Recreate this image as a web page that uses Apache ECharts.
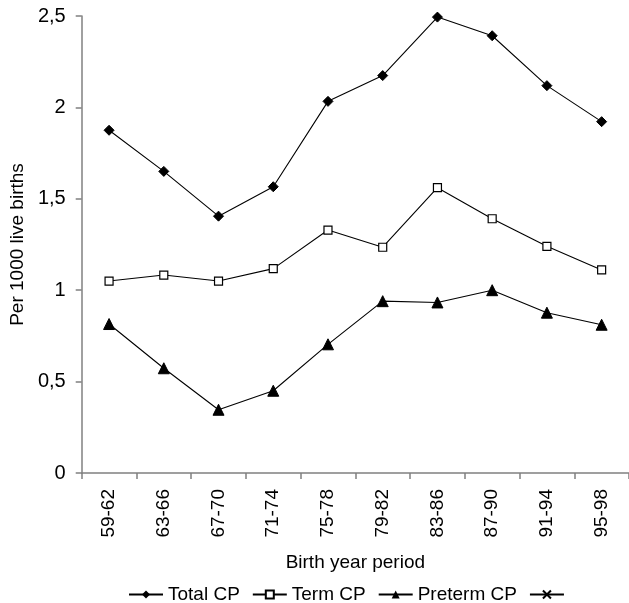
<!DOCTYPE html>
<html>
<head>
<meta charset="utf-8">
<script src="https://cdn.jsdelivr.net/npm/echarts@6/dist/echarts.min.js"></script>
<style>
  body { margin: 0; background: #fff; }
  #chart { width: 629px; height: 603px; }
</style>
</head>
<body>
<div id="chart"></div>
<script>
const periods = ['59-62', '63-66', '67-70', '71-74', '75-78', '79-82', '83-86', '87-90', '91-94', '95-98'];
const totalCP = [1.875, 1.65, 1.405, 1.566, 2.033, 2.174, 2.494, 2.392, 2.119, 1.922];
const termCP = [1.05, 1.083, 1.05, 1.118, 1.329, 1.235, 1.561, 1.391, 1.24, 1.111];
const pretermCP = [0.815, 0.573, 0.346, 0.45, 0.704, 0.94, 0.933, 1.0, 0.877, 0.811];

const font = 'Liberation Sans, Arial, sans-serif';
const crossPath = 'path://M0,0L10,10M10,0L0,10';

const chart = echarts.init(document.getElementById('chart'));

const lineStyle = { color: '#000', width: 1.1 };

chart.setOption({
  animation: false,
  backgroundColor: '#fff',
  textStyle: { fontFamily: font, color: '#000' },
  grid: { left: 78, right: -8, top: 16, bottom: 130 },
  legend: {
    top: 580,
    left: 123,
    padding: 5,
    itemWidth: 34,
    itemHeight: 10,
    itemGap: 12,
    textStyle: { fontFamily: font, fontSize: 19, color: '#000' },
    data: ['Total CP', 'Term CP', 'Preterm CP', ' ']
  },
  xAxis: {
    type: 'category',
    data: periods,
    boundaryGap: true,
    name: 'Birth year period',
    nameLocation: 'middle',
    nameGap: 80,
    nameTextStyle: { fontSize: 19, color: '#000', fontFamily: font },
    axisLine: { lineStyle: { color: '#808080', width: 1.5 } },
    axisTick: { show: true, length: 6, alignWithLabel: false, lineStyle: { color: '#808080', width: 1.5 } },
    axisLabel: { rotate: 90, fontSize: 19, color: '#000', margin: 16, fontFamily: font }
  },
  yAxis: {
    type: 'value',
    min: 0,
    max: 2.5,
    interval: 0.5,
    name: 'Per 1000 live births',
    nameLocation: 'middle',
    nameGap: 54,
    nameTextStyle: { fontSize: 19, color: '#000', fontFamily: font },
    axisLine: { show: true, lineStyle: { color: '#808080', width: 1.5 } },
    axisTick: { show: true, length: 6, lineStyle: { color: '#808080', width: 1.5 } },
    splitLine: { show: false },
    axisLabel: {
      fontSize: 20, color: '#000', margin: 16, fontFamily: font,
      formatter: v => String(v).replace('.', ',')
    }
  },
  series: [
    {
      name: 'Total CP', type: 'line', data: totalCP,
      symbol: 'diamond', symbolSize: 10,
      lineStyle: lineStyle,
      itemStyle: { color: '#000', borderColor: '#000' }
    },
    {
      name: 'Term CP', type: 'line', data: termCP,
      symbol: 'rect', symbolSize: 8,
      lineStyle: lineStyle,
      itemStyle: { color: '#fff', borderColor: '#000', borderWidth: 1.2 }
    },
    {
      name: 'Preterm CP', type: 'line', data: pretermCP,
      symbol: 'triangle', symbolSize: 11,
      lineStyle: lineStyle,
      itemStyle: { color: '#000', borderColor: '#000' }
    },
    {
      name: ' ', type: 'line', data: [],
      symbol: crossPath, symbolSize: 8,
      lineStyle: lineStyle,
      itemStyle: { color: '#000', borderColor: '#000', borderWidth: 1.2 }
    }
  ]
});
</script>
</body>
</html>
